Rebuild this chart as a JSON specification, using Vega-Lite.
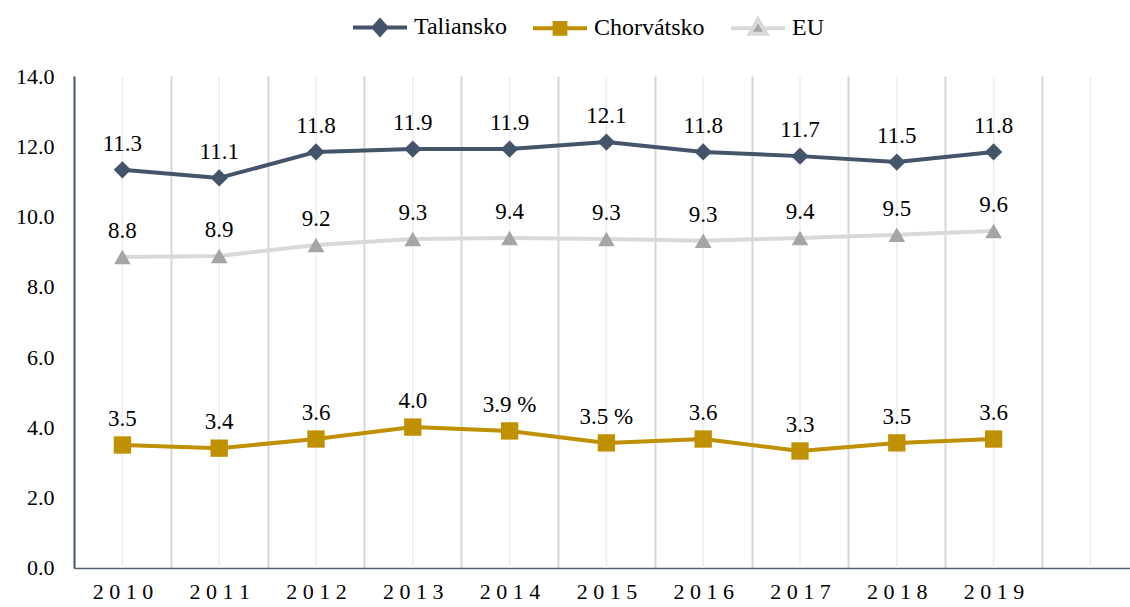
{
  "$schema": "https://vega.github.io/schema/vega-lite/v6.json",
  "autosize": {"type": "none"},
  "padding": {"left": 74, "top": 76, "right": 0, "bottom": 39},
  "width": 1064.8,
  "height": 492,
  "background": "white",
  "config": {
    "view": {"stroke": null},
    "font": "Liberation Serif",
    "legend": {
      "labelFont": "Liberation Serif",
      "labelFontSize": 24,
      "labelColor": "#000000",
      "symbolStrokeWidth": 4,
      "symbolSize": 2916,
      "symbolOpacity": 1,
      "labelOffset": 5,
      "columnPadding": 18
    }
  },
  "datasets": {
    "grid": [
      {"year": "2010"}, {"year": "2011"}, {"year": "2012"}, {"year": "2013"}, {"year": "2014"},
      {"year": "2015"}, {"year": "2016"}, {"year": "2017"}, {"year": "2018"}, {"year": "2019"}, {"year": "2020"}
    ]
  },
  "data": {
    "values": [
      {"series": "Taliansko", "year": "2010", "value": 11.33, "label": "11.3"},
      {"series": "Taliansko", "year": "2011", "value": 11.1, "label": "11.1"},
      {"series": "Taliansko", "year": "2012", "value": 11.84, "label": "11.8"},
      {"series": "Taliansko", "year": "2013", "value": 11.92, "label": "11.9"},
      {"series": "Taliansko", "year": "2014", "value": 11.92, "label": "11.9"},
      {"series": "Taliansko", "year": "2015", "value": 12.12, "label": "12.1"},
      {"series": "Taliansko", "year": "2016", "value": 11.84, "label": "11.8"},
      {"series": "Taliansko", "year": "2017", "value": 11.72, "label": "11.7"},
      {"series": "Taliansko", "year": "2018", "value": 11.55, "label": "11.5"},
      {"series": "Taliansko", "year": "2019", "value": 11.84, "label": "11.8"},
      {"series": "Chorvátsko", "year": "2010", "value": 3.5, "label": "3.5"},
      {"series": "Chorvátsko", "year": "2011", "value": 3.41, "label": "3.4"},
      {"series": "Chorvátsko", "year": "2012", "value": 3.67, "label": "3.6"},
      {"series": "Chorvátsko", "year": "2013", "value": 4.01, "label": "4.0"},
      {"series": "Chorvátsko", "year": "2014", "value": 3.9, "label": "3.9 %"},
      {"series": "Chorvátsko", "year": "2015", "value": 3.56, "label": "3.5 %"},
      {"series": "Chorvátsko", "year": "2016", "value": 3.67, "label": "3.6"},
      {"series": "Chorvátsko", "year": "2017", "value": 3.33, "label": "3.3"},
      {"series": "Chorvátsko", "year": "2018", "value": 3.56, "label": "3.5"},
      {"series": "Chorvátsko", "year": "2019", "value": 3.67, "label": "3.6"},
      {"series": "EU", "year": "2010", "value": 8.85, "label": "8.8"},
      {"series": "EU", "year": "2011", "value": 8.88, "label": "8.9"},
      {"series": "EU", "year": "2012", "value": 9.19, "label": "9.2"},
      {"series": "EU", "year": "2013", "value": 9.36, "label": "9.3"},
      {"series": "EU", "year": "2014", "value": 9.39, "label": "9.4"},
      {"series": "EU", "year": "2015", "value": 9.36, "label": "9.3"},
      {"series": "EU", "year": "2016", "value": 9.31, "label": "9.3"},
      {"series": "EU", "year": "2017", "value": 9.39, "label": "9.4"},
      {"series": "EU", "year": "2018", "value": 9.48, "label": "9.5"},
      {"series": "EU", "year": "2019", "value": 9.59, "label": "9.6"}
    ]
  },
  "encoding": {
    "x": {
      "field": "year",
      "type": "ordinal",
      "bandPosition": 0.5,
      "scale": {
        "type": "band",
        "domain": ["2010", "2011", "2012", "2013", "2014", "2015", "2016", "2017", "2018", "2019", "2020"],
        "paddingInner": 0,
        "paddingOuter": 0
      },
      "axis": {
        "title": null,
        "labelAngle": 0,
        "labelFont": "Liberation Serif",
        "labelFontSize": 22,
        "labelColor": "#000000",
        "labelPadding": 14,
        "labelExpr": "datum.value == '2020' ? '' : join(split(datum.label, ''), ' ')",
        "ticks": false,
        "tickBand": "extent",
        "grid": true,
        "gridColor": "#d6d6d6",
        "gridWidth": 2,
        "domainColor": "#53627a",
        "domainWidth": 1.5,
        "zindex": 0
      }
    }
  },
  "layer": [
    {
      "data": {"name": "grid"},
      "mark": {"type": "rule", "color": "#eeeeee", "strokeWidth": 1.5},
      "encoding": {"x": {"field": "year", "type": "ordinal", "bandPosition": 0.5}}
    },
    {
      "mark": {"type": "line", "strokeWidth": 4, "strokeJoin": "round"},
      "encoding": {
        "y": {
          "field": "value",
          "type": "quantitative",
          "scale": {"domain": [0, 14], "nice": false, "zero": true},
          "axis": {
            "title": null,
            "values": [0, 2, 4, 6, 8, 10, 12, 14],
            "format": ".1f",
            "grid": false,
            "ticks": false,
            "labelFont": "Liberation Serif",
            "labelFontSize": 22,
            "labelColor": "#000000",
            "labelPadding": 20,
            "domainColor": "#4a5a74",
            "domainWidth": 2
          }
        },
        "stroke": {
          "field": "series",
          "type": "nominal",
          "scale": {"domain": ["Taliansko", "Chorvátsko", "EU"], "range": ["#44546a", "#bf9000", "#d9d9d9"]},
          "legend": {"title": null, "orient": "none", "direction": "horizontal", "legendX": 277, "legendY": -78}
        },
        "detail": {"field": "series"},
        "order": {"field": "year"}
      }
    },
    {
      "mark": {"type": "point", "filled": true, "opacity": 0, "size": 2916, "strokeWidth": 4},
      "encoding": {
        "y": {"field": "value", "type": "quantitative"},
        "stroke": {"field": "series", "type": "nominal"},
        "fill": {
          "field": "series",
          "type": "nominal",
          "scale": {"domain": ["Taliansko", "Chorvátsko", "EU"], "range": ["#44546a", "#bf9000", "#a5a5a5"]},
          "legend": {"title": null, "orient": "none", "direction": "horizontal", "legendX": 277, "legendY": -78}
        },
        "shape": {
          "field": "series",
          "type": "nominal",
          "scale": {
            "domain": ["Taliansko", "Chorvátsko", "EU"],
            "range": [
              "M-1,0L-0.24,0L0,-0.26L0.24,0L1,0L0.24,0L0,0.26L-0.24,0Z",
              "M-1,0L-0.2,0L-0.2,-0.2L0.2,-0.2L0.2,0L1,0L0.2,0L0.2,0.2L-0.2,0.2L-0.2,0Z",
              "M-1,0L-0.19,0L0,-0.32L0.19,0L1,0L0.19,0L0.31,0.21L-0.31,0.21L-0.19,0Z"
            ]
          },
          "legend": {"title": null, "orient": "none", "direction": "horizontal", "legendX": 277, "legendY": -78}
        }
      }
    },
    {
      "transform": [{"filter": "datum.series == 'EU'"}],
      "mark": {"type": "point", "shape": "triangle-up", "filled": true, "opacity": 1, "color": "#a5a5a5", "size": 280},
      "encoding": {"y": {"field": "value", "type": "quantitative"}}
    },
    {
      "transform": [{"filter": "datum.series == 'Chorvátsko'"}],
      "mark": {"type": "point", "shape": "square", "filled": true, "opacity": 1, "color": "#bf9000", "size": 300},
      "encoding": {"y": {"field": "value", "type": "quantitative"}}
    },
    {
      "transform": [{"filter": "datum.series == 'Taliansko'"}],
      "mark": {"type": "point", "shape": "diamond", "filled": true, "opacity": 1, "color": "#44546a", "size": 300},
      "encoding": {"y": {"field": "value", "type": "quantitative"}}
    },
    {
      "mark": {"type": "text", "font": "Liberation Serif", "fontSize": 23, "color": "#000000", "baseline": "middle", "dy": -26},
      "encoding": {
        "y": {"field": "value", "type": "quantitative"},
        "text": {"field": "label"}
      }
    }
  ]
}
